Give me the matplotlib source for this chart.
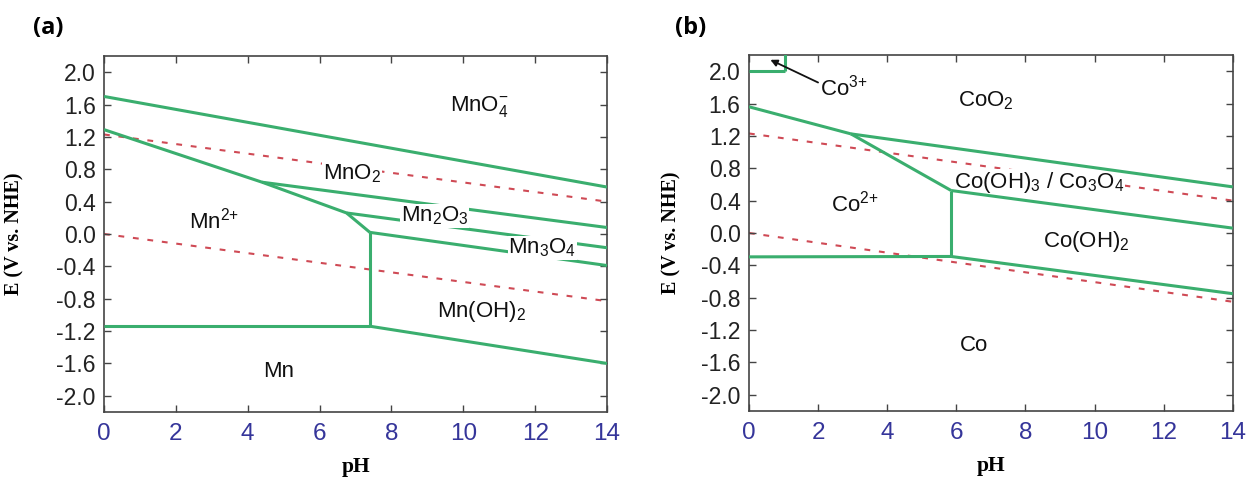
import matplotlib
matplotlib.use("Agg")
import matplotlib.pyplot as plt

# ---------------- data ----------------
xlim = (0, 14)
ylim = (-2.2, 2.2)
xticks = [0, 2, 4, 6, 8, 10, 12, 14]
yticks = [2.0, 1.6, 1.2, 0.8, 0.4, 0.0, -0.4, -0.8, -1.2, -1.6, -2.0]
ytick_labels = ["2.0", "1.6", "1.2", "0.8", "0.4", "0.0", "-0.4", "-0.8", "-1.2", "-1.6", "-2.0"]

# water stability lines (both panels)
o2_ph = [0, 14]
o2_e_a = [1.23, 0.40]
h2_ph = [0, 14]
h2_e_a = [0.0, -0.83]
o2_e_b = [1.23, 0.40]
h2_e_b = [0.0, -0.85]

# Panel (a): Mn Pourbaix boundaries
mn_boundaries = {
    "MnO4-/MnO2": ([0, 14], [1.70, 0.58]),
    "Mn2+/oxides": ([0, 4.4, 6.75, 7.4], [1.29, 0.64, 0.26, 0.02]),
    "MnO2/Mn2O3": ([4.4, 14], [0.64, 0.08]),
    "Mn2O3/Mn3O4": ([6.75, 14], [0.26, -0.17]),
    "Mn3O4/Mn(OH)2": ([7.4, 14], [0.02, -0.39]),
    "Mn2+/Mn(OH)2": ([7.4, 7.4], [0.02, -1.14]),
    "Mn2+/Mn": ([0, 7.4], [-1.14, -1.14]),
    "Mn(OH)2/Mn": ([7.4, 14], [-1.14, -1.60]),
}
mn_labels = [
    (r"MnO$_4^{-}$", 10.45, 1.58),
    (r"MnO$_2$", 6.9, 0.75),
    (r"Mn$_2$O$_3$", 9.2, 0.22),
    (r"Mn$_3$O$_4$", 12.2, -0.17),
    (r"Mn$^{2{+}}$", 3.05, 0.16),
    (r"Mn(OH)$_2$", 10.5, -0.96),
    ("Mn", 4.85, -1.70),
]

# Panel (b): Co Pourbaix boundaries
co_boundaries = {
    "Co3+/CoO2 h": ([0, 1.05], [2.0, 2.0]),
    "Co3+/CoO2 v": ([1.05, 1.05], [2.0, 2.25]),
    "Co2+/CoO2": ([0, 2.95], [1.56, 1.225]),
    "CoO2/Co(OH)3": ([2.95, 14], [1.225, 0.57]),
    "Co2+/Co(OH)3": ([2.95, 5.85], [1.225, 0.525]),
    "Co2+/Co(OH)2": ([5.85, 5.85], [0.525, -0.29]),
    "Co(OH)3/Co(OH)2": ([5.85, 14], [0.525, 0.06]),
    "Co2+/Co": ([0, 5.85], [-0.295, -0.29]),
    "Co(OH)2/Co": ([5.85, 14], [-0.29, -0.75]),
}
co_labels = [
    (r"CoO$_2$", 6.85, 1.64),
    (r"Co(OH)$_3$ / Co$_3$O$_4$", 8.4, 0.63),
    (r"Co$^{2{+}}$", 3.07, 0.36),
    (r"Co(OH)$_2$", 9.75, -0.11),
    ("Co", 6.5, -1.39),
]
co3_label = (r"Co$^{3{+}}$", 2.75, 1.80)
co3_arrow_tail = (2.0, 1.86)
co3_arrow_head = (0.62, 2.14)

GREEN = "#3aae6e"
RED = "#cf4a55"
BLUE = "#35359a"

plt.rcParams["font.family"] = ["Liberation Sans", "DejaVu Sans"]
plt.rcParams["mathtext.fontset"] = "custom"
plt.rcParams["mathtext.rm"] = "Liberation Sans"
plt.rcParams["mathtext.it"] = "Liberation Sans"

fig = plt.figure(figsize=(12.47, 4.84), dpi=100)
ax_a = fig.add_axes([0.0834, 0.1488, 0.4034, 0.7355])
ax_b = fig.add_axes([0.6006, 0.1508, 0.3880, 0.7356])


def style(ax, ylab_x):
    ax.set_xlim(*xlim)
    ax.set_ylim(*ylim)
    ax.set_xticks(xticks)
    ax.set_xticklabels([str(t) for t in xticks], color=BLUE, fontsize=17.5)
    ax.set_yticks(yticks)
    ax.set_yticklabels(ytick_labels, color="#222222", fontsize=16.5)
    ax.tick_params(direction="in", length=5, width=1, color="#444444",
                   top=True, right=True)
    ax.tick_params(axis="y", pad=6)
    ax.tick_params(axis="x", pad=8)
    for s in ax.spines.values():
        s.set_color("#444444")
        s.set_linewidth(1.2)
    ax.set_xlabel("pH", family="Liberation Serif", fontweight="bold",
                  fontsize=15.5)
    ax.set_ylabel("E (V vs. NHE)", family="Liberation Serif", fontweight="bold",
                  fontsize=14.5)
    ax.xaxis.set_label_coords(0.5, -0.127)
    ax.yaxis.set_label_coords(ylab_x, 0.5)


def water(ax, o2e, h2e):
    ax.plot(o2_ph, o2e, color=RED, lw=1.5, dashes=(2.8, 4.2), zorder=1)
    ax.plot(h2_ph, h2e, color=RED, lw=1.5, dashes=(2.8, 4.2), zorder=1)


def put_labels(ax, labels, z):
    for txt, x, y in labels:
        ax.text(x, y, txt, ha="center", va="center", fontsize=16, color="#111111",
                zorder=z,
                bbox=dict(facecolor="white", edgecolor="none", pad=0.5))


# ----- panel a -----
style(ax_a, -0.158)
water(ax_a, o2_e_a, h2_e_a)
for name, (xs, ys) in mn_boundaries.items():
    ax_a.plot(xs, ys, color=GREEN, lw=2.2, zorder=3, solid_capstyle="butt")
put_labels(ax_a, mn_labels, 5)

# ----- panel b -----
style(ax_b, -0.14)
water(ax_b, o2_e_b, h2_e_b)
for name, (xs, ys) in co_boundaries.items():
    ax_b.plot(xs, ys, color=GREEN, lw=2.2, zorder=3, solid_capstyle="butt")
put_labels(ax_b, co_labels, 2)
ax_b.text(co3_label[1], co3_label[2], co3_label[0], ha="center", va="center",
          fontsize=16, color="#111111", zorder=5)
ax_b.annotate("", xy=co3_arrow_head, xytext=co3_arrow_tail,
              arrowprops=dict(arrowstyle="-|>", color="#111111", lw=1.3,
                              mutation_scale=10, shrinkA=0, shrinkB=0))

fig.text(0.0385, 0.942, "(a)", fontsize=17, fontweight="bold",
         family=["Open Sans", "DejaVu Sans"], ha="center", va="center")
fig.text(0.554, 0.942, "(b)", fontsize=17, fontweight="bold",
         family=["Open Sans", "DejaVu Sans"], ha="center", va="center")

fig.savefig("out.png", dpi=100, facecolor="white")
